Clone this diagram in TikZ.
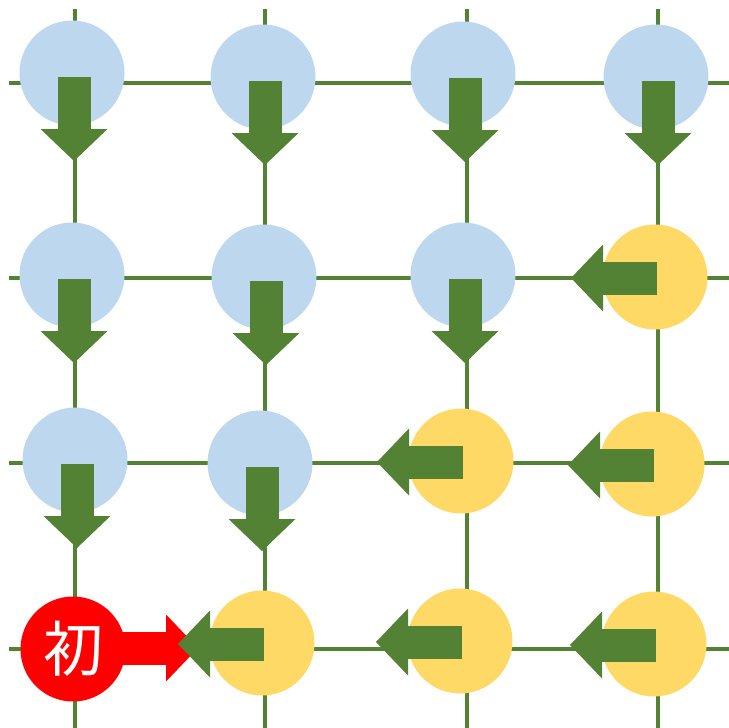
\documentclass[tikz,border=0pt]{standalone}
\usepackage{fontspec}
\newfontfamily\cjk{Noto Sans CJK JP}
\usetikzlibrary{arrows.meta}
\definecolor{grn}{RGB}{84,130,53}
\definecolor{ltblue}{RGB}{189,215,238}
\definecolor{ltyel}{RGB}{255,217,102}
\tikzstyle{ball}=[shape=circle, minimum size=105pt, inner sep=0]
\tikzstyle{bb}=[ball, fill=ltblue]
\tikzstyle{yb}=[ball, fill=ltyel]
\tikzstyle{rb}=[ball, fill=red, text=white, font=\cjk\fontsize{60}{60}\selectfont]
\tikzstyle{edge}=[draw=grn, line width=4pt]
\tikzstyle{mv}=[draw=grn, line width=33pt, -{Triangle[width=67pt, length=32pt, line width=0pt]}]

\begin{document}
\begin{tikzpicture}[x=1pt, y=-1pt]
\useasboundingbox (0,0) rectangle (729,728);
% grid lines
\foreach \x/\i in {75/1,265/2,467/3,658/4}
	{\coordinate (t\i) at (\x,9);
	 \coordinate (d\i) at (\x,728);
	 \draw[edge] (t\i)--(d\i);}
\foreach \y/\i in {83/1,278/2,463/3,649/4}
	{\coordinate (l\i) at (9,\y);
	 \coordinate (r\i) at (729,\y);
	 \draw[edge] (l\i)--(r\i);}
% start arrow
\coordinate (s) at (73,648);
\draw[mv, draw=red] (s) -- ++(125,0);
% circles
\draw (72,73) node[bb](c11) {};
\draw (263,77) node[bb](c12) {};
\draw (463,74) node[bb](c13) {};
\draw (656,77) node[bb](c14) {};
\draw (72,275) node[bb](c21) {};
\draw (264,277) node[bb](c22) {};
\draw (463,275) node[bb](c23) {};
\draw (655,277) node[yb](c24) {};
\draw (75,460) node[bb](c31) {};
\draw (260,463) node[bb](c32) {};
\draw (461,461) node[yb](c33) {};
\draw (652,464) node[yb](c34) {};
\draw (73,649) node[rb](c41) {初};
\draw (262,643) node[yb](c42) {};
\draw (460,641) node[yb](c43) {};
\draw (654,644) node[yb](c44) {};
% moves
\foreach \n in {11,12,13,14,21,22,23,31,32}
	\draw[mv] ([shift={(2,4)}]c\n.center) -- ++(0,84);
\foreach \n in {24,33,34,42,43,44}
	\draw[mv] ([shift={(2,1)}]c\n.center) -- ++(-86,0);
\end{tikzpicture}
\end{document}
